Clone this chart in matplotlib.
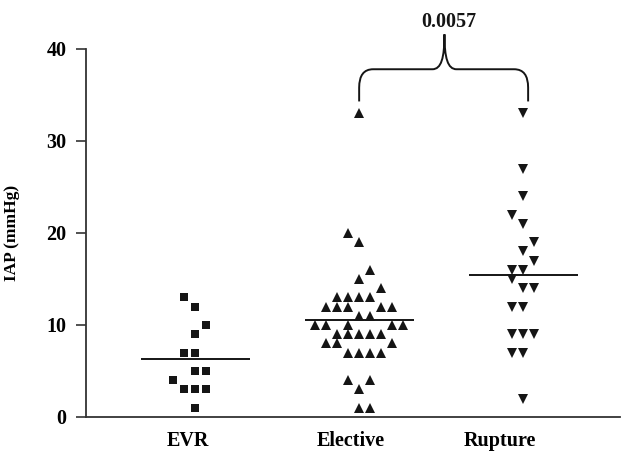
import numpy as np
import matplotlib
matplotlib.use("Agg")
import matplotlib.pyplot as plt
from matplotlib.path import Path
from matplotlib.patches import PathPatch

# ---- data ----
categories = ["EVR", "Elective", "Rupture"]
evr = [13, 12, 10, 9, 7, 7, 5, 5, 4, 3, 3, 3, 1]
elective = [33, 20, 19, 16, 15, 14, 13, 13, 13, 13, 12, 12, 12, 12, 12, 11, 11,
            10, 10, 10, 10, 10, 9, 9, 9, 9, 9, 8, 8, 8, 7, 7, 7, 7, 4, 4, 3, 1, 1]
rupture = [33, 27, 24, 22, 21, 19, 18, 17, 16, 16, 15, 14, 14, 12, 12, 9, 9, 9, 7, 7, 2]
p_value_label = "0.0057"
y_ticks = [0, 10, 20, 30, 40]

# ---- layout (horizontal scatter columns) ----
evr_cols = [-1, 0, 1, 0, -1, 0, 0, 1, -2, -1, 0, 1, 0]
elective_cols = [0, -1, 0, 1, 0, 2, -2, -1, 0, 1, -3, -2, -1, 2, 3, 0, 1,
                 -4, -3, -1, 3, 4, -2, -1, 0, 1, 2, -3, -2, 3, -1, 0, 1, 2, -1, 1, 0, 0, 1]
rupture_cols = [0, 0, 0, -1, 0, 1, 0, 1, -1, 0, -1, 0, 1, -1, 0, -1, 0, 1, -1, 0, 0]

col_step = 0.067
half_line = 0.332
positions = [0, 1, 2]
label_pos = [-0.043, 0.948, 1.86]

serif = ["Liberation Serif", "DejaVu Serif"]
plt.rcParams["font.family"] = serif
plt.rcParams["font.weight"] = "bold"

W, H = 629, 451
fig = plt.figure(figsize=(W / 100, H / 100), dpi=100)
ax = fig.add_axes([86 / W, 34 / H, (620 - 86) / W, (417 - 49) / H])

groups = [(evr, evr_cols, "s", 6.4), (elective, elective_cols, "^", 6.9), (rupture, rupture_cols, "v", 6.9)]
ink = "#151515"
for pos, (vals, cols, mk, ms) in zip(positions, groups):
    xs = pos + np.array(cols) * col_step
    ax.plot(xs, vals, linestyle="none", marker=mk, markersize=ms,
            color=ink, markeredgewidth=0, clip_on=False, zorder=3)
    m = np.mean(vals)
    ax.hlines(m, pos - half_line, pos + half_line, color=ink, linewidth=1.4, zorder=2)

ax.set_xlim(-0.665, 2.59)
ax.set_ylim(0, 40)
ax.set_yticks(y_ticks)
ax.set_yticklabels([str(t) for t in y_ticks], fontsize=14.5, fontweight="bold")
ax.set_xticks(label_pos)
ax.set_xticklabels(categories, fontsize=14.5, fontweight="bold")
ax.tick_params(axis="x", length=0, pad=10)
ax.tick_params(axis="y", length=7, width=1.2, pad=7, color="#333333")
for s in ["top", "right"]:
    ax.spines[s].set_visible(False)
for s in ["left", "bottom"]:
    ax.spines[s].set_linewidth(1.3)
    ax.spines[s].set_color("#333333")

ax.set_ylabel("IAP (mmHg)", fontsize=12.5, fontweight="bold")
ax.yaxis.set_label_coords((20 - 86) / 534, 0.5)

# ---- curly brace annotation ----
xl, xr, xc = 1.0, 2.03, 1.52
yb, yh, yp = 34.3, 37.8, 41.6
verts = [
    (xl, yb), (xl, 35.8),
    (xl, yh), (xl + 0.085, yh),
    (xc - 0.074, yh),
    (xc - 0.02, yh), (xc, 39.0), (xc, yp),
    (xc, 39.0), (xc + 0.02, yh), (xc + 0.074, yh),
    (xr - 0.085, yh),
    (xr, yh), (xr, 35.8),
    (xr, yb),
]
codes = [Path.MOVETO, Path.LINETO,
         Path.CURVE3, Path.CURVE3,
         Path.LINETO,
         Path.CURVE4, Path.CURVE4, Path.CURVE4,
         Path.CURVE4, Path.CURVE4, Path.CURVE4,
         Path.LINETO,
         Path.CURVE3, Path.CURVE3,
         Path.LINETO]
brace = PathPatch(Path(verts, codes), facecolor="none", edgecolor=ink,
                  linewidth=1.4, clip_on=False)
ax.add_patch(brace)
ax.text(1.546, 42.4, p_value_label, ha="center", va="baseline",
        fontsize=14.5, fontweight="bold", color=ink, clip_on=False)

fig.savefig("out.png", dpi=100)
